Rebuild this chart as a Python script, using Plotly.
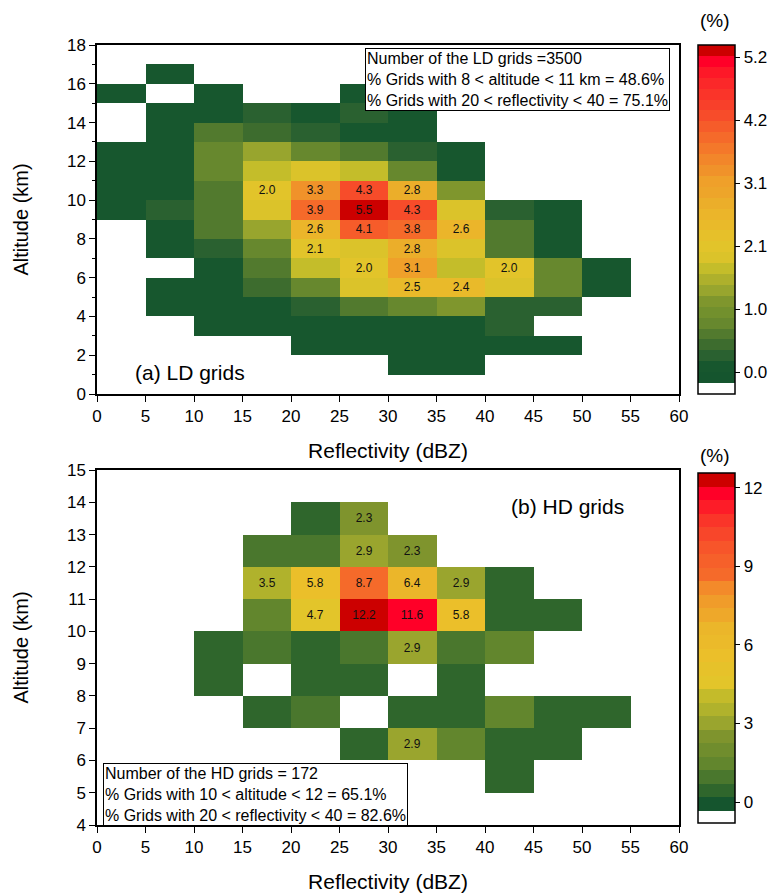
import plotly.graph_objects as go

# ---------------- data ----------------
refl_centers = [2.5, 7.5, 12.5, 17.5, 22.5, 27.5, 32.5, 37.5, 42.5, 47.5, 52.5, 57.5]
ld_alt_centers = [i + 0.5 for i in range(18)]
hd_alt_centers = [i + 0.5 for i in range(4, 15)]
N = None

# LD grids, % of grids per (5 dBZ x 1 km) cell, rows from 0-1 km upward
ld_values = [
    [N, N, N, N, N, N, N, N, N, N, N, N],                                   # 0-1
    [N, N, N, N, N, N, 0.1, 0.1, N, N, N, N],                               # 1-2
    [N, N, N, N, 0.1, 0.1, 0.1, 0.1, 0.1, 0.1, N, N],                       # 2-3
    [N, N, 0.1, 0.1, 0.1, 0.1, 0.1, 0.1, 0.27, N, N, N],                    # 3-4
    [N, 0.1, 0.1, 0.1, 0.27, 0.65, 0.8, 1.2, 0.27, 0.27, N, N],             # 4-5
    [N, 0.1, 0.1, 0.45, 0.8, 1.85, 2.5, 2.4, 1.94, 0.8, 0.1, N],            # 5-6
    [N, N, 0.1, 0.65, 1.7, 2.0, 3.1, 1.7, 2.0, 0.8, 0.1, N],                # 6-7
    [N, 0.1, 0.27, 0.8, 2.1, 1.85, 2.8, 1.85, 0.65, 0.1, N, N],             # 7-8
    [N, 0.1, 0.65, 1.4, 2.6, 4.1, 3.8, 2.6, 0.65, 0.1, N, N],               # 8-9
    [0.1, 0.27, 0.65, 1.94, 3.9, 5.5, 4.3, 1.94, 0.27, 0.1, N, N],          # 9-10
    [0.1, 0.1, 0.65, 2.0, 3.3, 4.3, 2.8, 1.2, N, N, N, N],                  # 10-11
    [0.1, 0.1, 0.8, 1.7, 1.94, 1.7, 0.8, 0.1, N, N, N, N],                  # 11-12
    [0.1, 0.1, 0.8, 1.4, 0.8, 0.65, 0.27, 0.1, N, N, N, N],                 # 12-13
    [N, 0.1, 0.65, 0.45, 0.27, 0.1, 0.1, N, N, N, N, N],                    # 13-14
    [N, 0.1, 0.1, 0.27, 0.1, 0.27, 0.1, N, N, N, N, N],                     # 14-15
    [0.1, N, 0.1, N, N, 0.1, 0.1, N, N, N, N, N],                           # 15-16
    [N, 0.1, N, N, N, N, N, N, N, N, N, N],                                 # 16-17
    [N, N, N, N, N, N, N, N, N, N, N, N],                                   # 17-18
]

# HD grids, rows from 4-5 km upward
hd_values = [
    [N, N, N, N, N, N, N, N, N, N, N, N],                                   # 4-5
    [N, N, N, N, N, N, N, N, 0.6, N, N, N],                                 # 5-6
    [N, N, N, N, N, 0.6, 2.9, 1.7, 0.6, 0.6, N, N],                         # 6-7
    [N, N, N, 0.6, 1.2, N, 0.6, 0.6, 1.7, 0.6, 0.6, N],                     # 7-8
    [N, N, 0.6, N, 0.6, 0.6, N, 0.6, N, N, N, N],                           # 8-9
    [N, N, 0.6, 1.2, 0.6, 1.2, 2.9, 1.2, 1.7, N, N, N],                     # 9-10
    [N, N, N, 1.7, 4.7, 12.2, 11.6, 5.8, 0.6, 0.6, N, N],                   # 10-11
    [N, N, N, 3.5, 5.8, 8.7, 6.4, 2.9, 0.6, N, N, N],                       # 11-12
    [N, N, N, 1.2, 1.2, 2.9, 2.3, N, N, N, N, N],                           # 12-13
    [N, N, N, N, 0.6, 2.3, N, N, N, N, N, N],                               # 13-14
    [N, N, N, N, N, N, N, N, N, N, N, N],                                   # 14-15
]

x_ticks = [0, 5, 10, 15, 20, 25, 30, 35, 40, 45, 50, 55, 60]
ld_cb_tickvals = [0, 1.04, 2.08, 3.12, 4.16, 5.2]
ld_cb_ticktext = ["0.0", "1.0", "2.1", "3.1", "4.2", "5.2"]
hd_cb_tickvals = [0, 3, 6, 9, 12]
hd_cb_ticktext = ["0", "3", "6", "9", "12"]

ld_text_lines = ["Number of the LD grids =3500",
                 "% Grids with 8 < altitude < 11 km = 48.6%",
                 "% Grids with 20 < reflectivity < 40 = 75.1%"]
hd_text_lines = ["Number of the HD grids = 172",
                 "% Grids with 10 < altitude < 12 = 65.1%",
                 "% Grids with 20 < reflectivity < 40 = 82.6%"]

# ---------------- styles ----------------
ld_colors = ["#ffffff",
             "#15552e", "#17572e", "#2a6130", "#3d6c2e", "#527a2e", "#67882e",
             "#72902d", "#7f962d", "#98a52e", "#aeb02c", "#c4bd2a", "#dbc32a",
             "#e2c42a", "#e6c02a", "#e9ba2a", "#ebb52a", "#ebae2a", "#eda52a",
             "#efa02a", "#f0922a", "#f2862a", "#f4782a", "#f56a2a", "#f65c2a",
             "#f74c2a", "#f8402a", "#fa3429", "#fb2829", "#fd1828", "#ff0028",
             "#cc0000"]
ld_edges = [-0.36, -0.18] + [-0.18 + 0.18 * i for i in range(1, 32)]

hd_colors = ["#ffffff",
             "#15552e", "#2f662c", "#4a772d", "#62862d", "#708d2d", "#7f942d",
             "#9aa52e", "#b0b22c", "#c4bb2a", "#e3c52a", "#e6c22a", "#ebbf2a",
             "#ebba2a", "#ebb62a", "#eea82a", "#f09c2a", "#f38a2a", "#f56a2a",
             "#f6602a", "#f7552a", "#f8462a", "#fa3529", "#fd1c28", "#ff0028",
             "#cc0000"]
hd_edges = [-0.80, -0.34] + [-0.34 + 0.5164 * i for i in range(1, 26)]


def stepped(edges, colors):
    lo, hi = edges[0], edges[-1]
    cs = []
    for i, c in enumerate(colors):
        a = (edges[i] - lo) / (hi - lo)
        b = (edges[i + 1] - lo) / (hi - lo)
        cs.append([max(0.0, min(1.0, a)), c])
        cs.append([max(0.0, min(1.0, b)), c])
    cs[0][0] = 0.0
    cs[-1][0] = 1.0
    return cs


def labels(vals):
    return [["%.1f" % v if (v is not None and v >= 1.95) else "" for v in row] for row in vals]


# page has an 8 px body margin; the figure starts at (8, 8)
OFF = 8
W, H = 777 - OFF, 895 - OFF
FONT = "Arial, Liberation Sans, Helvetica, sans-serif"


def px_x(p):
    return (p - OFF) / W


def px_y(p):
    return 1 - (p - OFF) / H


fig = go.Figure()

fig.add_trace(go.Heatmap(
    x=refl_centers, y=ld_alt_centers, z=ld_values,
    text=labels(ld_values), texttemplate="%{text}",
    textfont=dict(size=12, color="#111111", family=FONT),
    zmin=ld_edges[0], zmax=ld_edges[-1],
    colorscale=stepped(ld_edges, ld_colors),
    xaxis="x", yaxis="y", hoverongaps=False,
    colorbar=dict(x=px_x(698), xanchor="left", y=px_y(45), yanchor="top",
                  len=349, lenmode="pixels", thickness=37, thicknessmode="pixels",
                  outlinewidth=1.5, outlinecolor="black", xpad=0, ypad=0,
                  ticks="outside", ticklen=5, tickwidth=1, tickcolor="black",
                  tickvals=ld_cb_tickvals, ticktext=ld_cb_ticktext,
                  tickfont=dict(size=17, color="black", family=FONT)),
))

fig.add_trace(go.Heatmap(
    x=refl_centers, y=hd_alt_centers, z=hd_values,
    text=labels(hd_values), texttemplate="%{text}",
    textfont=dict(size=12, color="#111111", family=FONT),
    zmin=hd_edges[0], zmax=hd_edges[-1],
    colorscale=stepped(hd_edges, hd_colors),
    xaxis="x2", yaxis="y2", hoverongaps=False,
    colorbar=dict(x=px_x(698), xanchor="left", y=px_y(473), yanchor="top",
                  len=350, lenmode="pixels", thickness=37, thicknessmode="pixels",
                  outlinewidth=1.5, outlinecolor="black", xpad=0, ypad=0,
                  ticks="outside", ticklen=5, tickwidth=1, tickcolor="black",
                  tickvals=hd_cb_tickvals, ticktext=hd_cb_ticktext,
                  tickfont=dict(size=17, color="black", family=FONT)),
))

axis_common = dict(showgrid=False, zeroline=False, showline=True, linecolor="black",
                   linewidth=1.5, mirror=True, ticks="outside", ticklen=6, tickwidth=1.2,
                   tickcolor="black", automargin=False,
                   tickfont=dict(size=17, color="black", family=FONT))

xdom = [px_x(97), px_x(679)]
fig.update_layout(
    width=W, height=H,
    margin=dict(l=0, r=0, t=0, b=0, autoexpand=False),
    paper_bgcolor="white", plot_bgcolor="white",
    font=dict(family=FONT, color="black"),
    xaxis=dict(domain=xdom, range=[0, 60], tickvals=x_ticks, anchor="y",
               title=dict(text="Reflectivity (dBZ)", font=dict(size=21), standoff=18),
               **axis_common),
    yaxis=dict(domain=[px_y(394), px_y(45)], range=[0, 18], dtick=2, anchor="x",
               minor=dict(dtick=1, ticks="outside", ticklen=3, tickcolor="black"),
               title=dict(text="Altitude (km)", font=dict(size=20), standoff=33),
               **axis_common),
    xaxis2=dict(domain=xdom, range=[0, 60], tickvals=x_ticks, anchor="y2",
                title=dict(text="Reflectivity (dBZ)", font=dict(size=21), standoff=18),
                **axis_common),
    yaxis2=dict(domain=[px_y(825), px_y(470)], range=[4, 15], dtick=1, anchor="x2",
                title=dict(text="Altitude (km)", font=dict(size=20), standoff=33),
                **axis_common),
    showlegend=False,
)

annotations = [
    dict(text="<br>".join(ld_text_lines), xref="paper", yref="paper",
         x=px_x(365), y=px_y(48), xanchor="left", yanchor="top", align="left",
         showarrow=False, bgcolor="white", bordercolor="black", borderwidth=1, borderpad=1,
         font=dict(size=16, color="black", family=FONT)),
    dict(text="<br>".join(hd_text_lines), xref="paper", yref="paper",
         x=px_x(103), y=px_y(826), xanchor="left", yanchor="bottom", align="left",
         showarrow=False, bgcolor="white", bordercolor="black", borderwidth=1, borderpad=1,
         font=dict(size=16, color="black", family=FONT)),
    dict(text="(a) LD grids", xref="paper", yref="paper", x=px_x(133), y=px_y(372),
         xanchor="left", yanchor="middle", showarrow=False,
         font=dict(size=21, color="black", family=FONT)),
    dict(text="(b) HD grids", xref="paper", yref="paper", x=px_x(509), y=px_y(506),
         xanchor="left", yanchor="middle", showarrow=False,
         font=dict(size=21, color="black", family=FONT)),
    dict(text="(%)", xref="paper", yref="paper", x=px_x(715), y=px_y(20),
         xanchor="center", yanchor="middle", showarrow=False,
         font=dict(size=19, color="black", family=FONT)),
    dict(text="(%)", xref="paper", yref="paper", x=px_x(715), y=px_y(455),
         xanchor="center", yanchor="middle", showarrow=False,
         font=dict(size=19, color="black", family=FONT)),
]
fig.update_layout(annotations=annotations)

fig.write_html("out.html")
